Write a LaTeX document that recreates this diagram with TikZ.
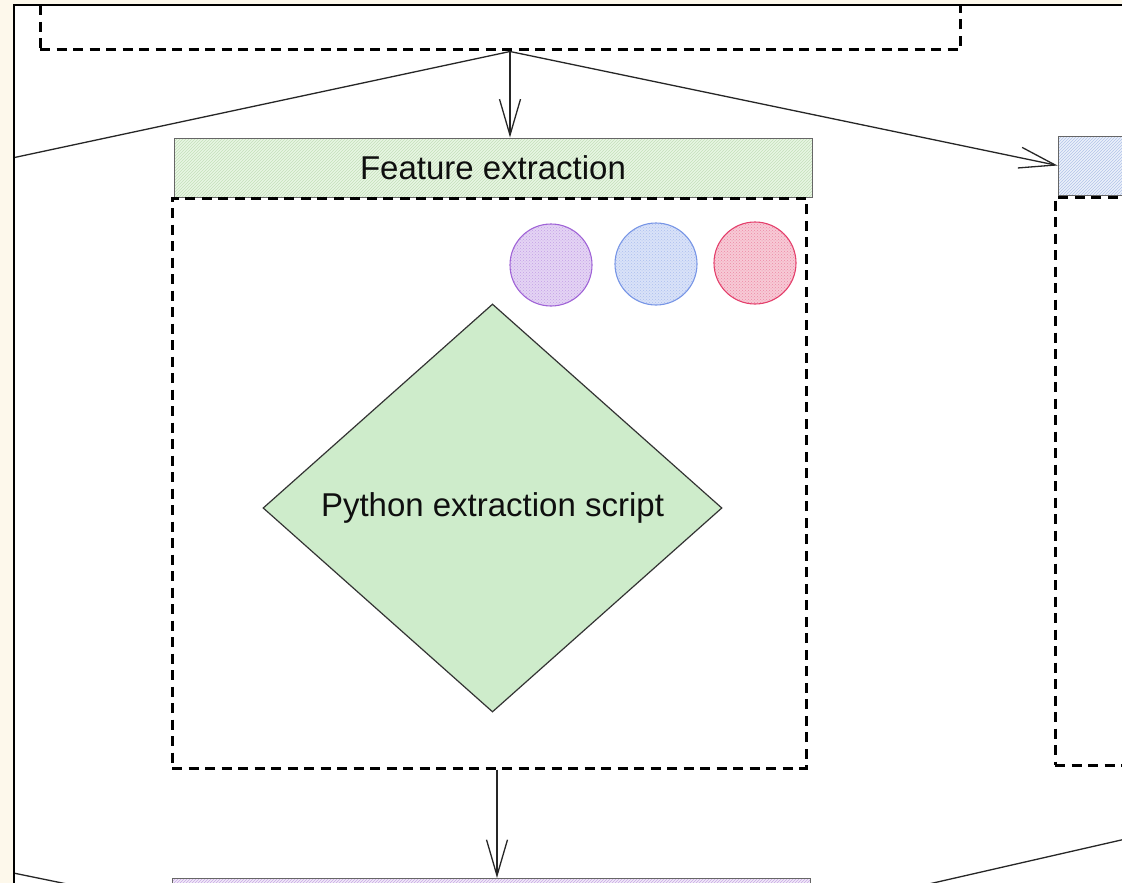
\documentclass[tikz,border=0pt]{standalone}
\usepackage{fontspec}
\setmainfont{Liberation Sans}
\usetikzlibrary{arrows.meta,shapes.geometric,patterns}

\definecolor{cream}{RGB}{253,248,235}
\definecolor{hdrgreen}{RGB}{233,246,228}
\definecolor{hatchgreen}{RGB}{196,224,186}
\definecolor{hdrblue}{RGB}{236,241,251}
\definecolor{hatchblue}{RGB}{178,195,232}
\definecolor{hdrpurple}{RGB}{242,234,249}
\definecolor{hatchpurple}{RGB}{200,170,228}
\definecolor{diamondfill}{RGB}{206,236,203}
\definecolor{cpurple}{RGB}{160,100,215}
\definecolor{cblue}{RGB}{120,150,230}
\definecolor{cred}{RGB}{228,64,108}
\definecolor{txt}{RGB}{15,15,15}

\tikzset{
  dbox/.style={draw=black, line width=3pt, dash pattern=on 10pt off 6.5pt,
               inner sep=0pt, minimum width=#1},
  hdr/.style={draw=black!60, line width=1pt, inner sep=0pt, minimum height=59pt,
              text=txt, font=\fontsize{33}{40}\selectfont},
  conn/.style={draw=black!85, line width=1.3pt,
               -{Straight Barb[length=36pt,width=21pt,line width=1.3pt]}},
  plain/.style={draw=black!85, line width=1.3pt},
  dot/.style={circle, minimum size=82pt, inner sep=0pt, line width=1.1pt,
              draw=#1, preaction={fill=#1!28}, pattern=crosshatch dots,
              pattern color=#1!62}
}

\begin{document}
\begin{tikzpicture}[x=1pt,y=-1pt]
  \useasboundingbox (0,0) rectangle (1122,883);
  % page background and white canvas
  \fill[cream] (0,0) rectangle (1122,883);
  \fill[white] (14,5) rectangle (1122,883);

  \begin{scope}
    \clip (14,5) rectangle (1122,883);

    % source block at the top
    \node[dbox=920pt, minimum height=150pt] (src) at (500,-25) {};

    % feature extraction stage
    \node[hdr, minimum width=638pt, preaction={fill=hdrgreen},
          pattern=north east lines, pattern color=hatchgreen] (fehdr) at (493,167.5) {};
    \node[text=txt, font=\fontsize{33}{40}\selectfont] (fetitle) at (fehdr.center) {Feature extraction};
    \node[dbox=634pt, minimum height=570pt] (febox) at (489,483) {};

    \node[dot=cpurple] (c1) at (551,265) {};
    \node[dot=cblue]   (c2) at (656,264) {};
    \node[dot=cred]    (c3) at (755,263) {};

    \node[diamond, draw=black!80, line width=1.2pt, fill=diamondfill,
          minimum width=459pt, minimum height=408pt, inner sep=0pt,
          text=txt, font=\fontsize{33}{40}\selectfont] (py) at (492.5,508)
          {Python extraction script};

    % neighbouring stage on the right
    \node[hdr, minimum width=132pt, preaction={fill=hdrblue},
          pattern=north east lines, pattern color=hatchblue] (bhdr) at (1124,165.5) {};
    \node[dbox=135pt, minimum height=568pt] (bbox) at (1122.5,481) {};

    % following stage below
    \node[hdr, minimum width=638pt, preaction={fill=hdrpurple},
          pattern=north east lines, pattern color=hatchpurple] (phdr) at (491,908) {};

    % connectors
    \coordinate (lfar) at (-100,182);
    \coordinate (bl1) at (-50,860);
    \coordinate (bl2) at (150,901);
    \coordinate (br1) at (1200,822);
    \coordinate (br2) at (850,902);

    \draw[conn] ([xshift=10pt]src.south) -- ([xshift=17pt]fehdr.north);
    \draw[conn] ([xshift=10pt]src.south) -- (bhdr.west);
    \draw[plain] ([xshift=10pt]src.south) -- (lfar);
    \draw[conn] ([xshift=8pt]febox.south) -- ([xshift=6pt]phdr.north);
    \draw[plain] (bl1) -- (bl2);
    \draw[plain] (br1) -- (br2);
  \end{scope}

  % frame of the canvas
  \draw[black, line width=2pt] (14,884) -- (14,5) -- (1123,5);
\end{tikzpicture}
\end{document}
